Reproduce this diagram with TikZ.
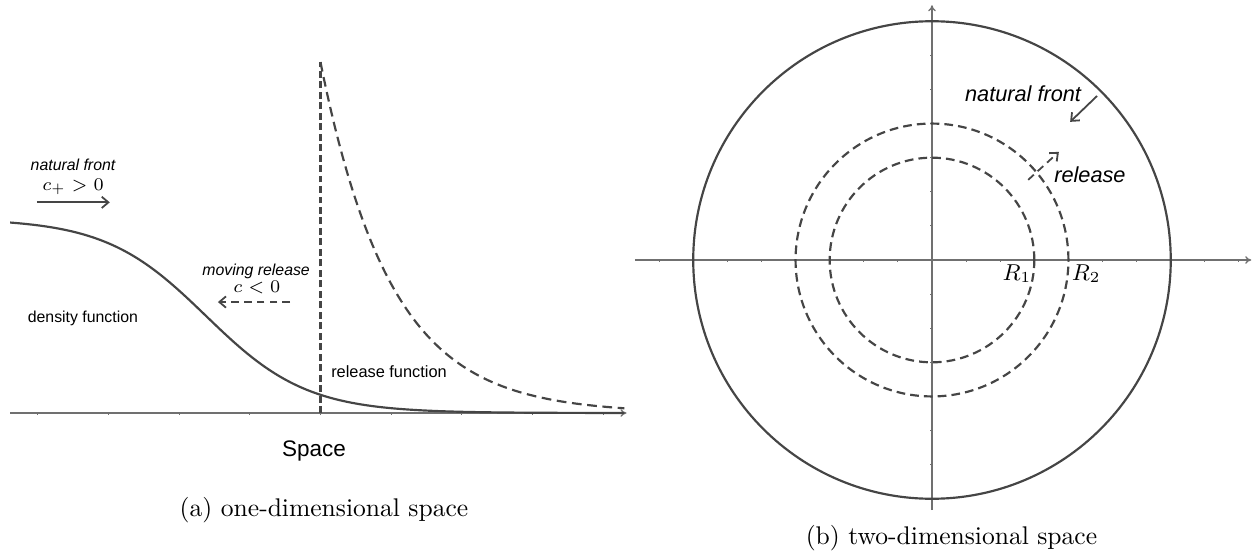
\documentclass[tikz,border=0pt]{standalone}
\usepackage{fontspec}
\setsansfont{Liberation Sans}
\usetikzlibrary{arrows.meta, positioning}
\definecolor{cdark}{HTML}{454545}
\definecolor{caxis}{HTML}{707070}

\begin{document}
\begin{tikzpicture}[
    axisline/.style={draw=caxis, line width=0.5pt, -{To[length=2.4pt, width=3pt]}},
    tickmark/.style={draw=caxis, line width=0.4pt},
    curveline/.style={draw=cdark, line width=0.85pt},
    dashline/.style={draw=cdark, line width=0.85pt, dash pattern=on 3.4pt off 2pt},
    arrowline/.style={draw=cdark, line width=0.7pt, -{Straight Barb[length=2.6pt, width=4.4pt]}},
    smalllabel/.style={font=\fontsize{6.2}{7.5}\selectfont\sffamily, text=black, inner sep=0pt},
    midlabel/.style={font=\fontsize{8.5}{10}\selectfont\sffamily\itshape, text=black, inner sep=0pt},
    mathlabel/.style={font=\fontsize{7.2}{8.5}\selectfont, text=black, inner sep=0pt},
    caption/.style={font=\fontsize{10}{12}\selectfont, text=black, inner sep=0pt}
]
    \useasboundingbox (0,0) rectangle (17.229,7.604);

    % ================= (a) one-dimensional space =================
    \begin{scope}[shift={(0.518,1.925)}, x=0.972cm, y=0.972cm]
        \coordinate (axstart) at (-0.39,0);
        \coordinate (axend) at (8.33,0);
        \draw[axisline] (axstart) -- (axend);
        \foreach \k in {0,...,8}
            \draw[tickmark] (\k,0) -- (\k,-0.035);

        % density and release curves
        \draw[curveline] plot[domain=-0.39:8.3, samples=140, smooth]
            (\x, {2.75/(1+exp(1.4*(\x-2.38)))});
        \coordinate (relbase) at (4,0);
        \coordinate (reltop) at (4,4.965);
        \draw[dashline, dash pattern=on 2.7pt off 1.4pt] (relbase) -- (reltop);
        \draw[dashline, dash pattern=on 3.8pt off 2.2pt] plot[domain=4:8.3, samples=90, smooth]
            (\x, {4.965*exp(-(\x-4))});

        % labels
        \node[smalllabel, font=\fontsize{6.2}{7.5}\selectfont\sffamily\itshape] (nflabel) at (0.5,3.51) {natural front};
        \node[mathlabel] (nfspeed) at (0.5,3.20) {$c_+>0$};
        \coordinate (nfstart) at (-0.01,2.98);
        \coordinate (nfend) at (1.02,2.98);
        \draw[arrowline] (nfstart) -- (nfend);

        \node[smalllabel] (denslabel) at (0.64,1.34) {density function};

        \node[smalllabel, font=\fontsize{6.2}{7.5}\selectfont\sffamily\itshape] (mrlabel) at (3.09,2.00) {moving release};
        \node[mathlabel] (mrspeed) at (3.10,1.77) {$c<0$};
        \coordinate (mrstart) at (3.57,1.57);
        \coordinate (mrend) at (2.55,1.57);
        \draw[arrowline, dash pattern=on 3pt off 2pt] (mrstart) -- (mrend);

        \node[smalllabel, font=\fontsize{6.4}{7.5}\selectfont\sffamily] (rflabel) at (4.97,0.58) {release function};
        \node[smalllabel, font=\fontsize{8.8}{10}\selectfont\sffamily] (spacelabel) at (3.91,-0.54) {Space};
    \end{scope}

    % ================= (b) two-dimensional space =================
    \begin{scope}[shift={(12.815,4.029)}, x=0.469cm, y=0.469cm]
        \coordinate (hxstart) at (-8.71,0);
        \coordinate (hxend) at (9.36,0);
        \coordinate (vxstart) at (0,-7.33);
        \coordinate (vxend) at (0,7.47);
        \draw[axisline] (hxstart) -- (hxend);
        \draw[axisline] (vxstart) -- (vxend);
        \foreach \k in {-8,...,9}
            \draw[tickmark] (\k,0) -- (\k,-0.07);
        \foreach \k in {-7,...,7}
            \draw[tickmark] (0,\k) -- (-0.07,\k);

        % fronts
        \draw[curveline] (0,0) circle (7);
        \draw[dashline] (0,0) circle (3);
        \draw[dashline] (0,0) circle (4);

        % labels
        \node[midlabel] (nflabelb) at (2.67,4.88) {natural front};
        \coordinate (nfbstart) at (4.84,4.81);
        \coordinate (nfbend) at (4.05,4.05);
        \draw[arrowline] (nfbstart) -- (nfbend);

        \node[midlabel] (rellabelb) at (4.63,2.49) {release};
        \coordinate (relbstart) at (2.82,2.35);
        \coordinate (relbend) at (3.72,3.17);
        \draw[arrowline, dash pattern=on 3pt off 2pt] (relbstart) -- (relbend);

        \node[mathlabel, font=\fontsize{8.8}{10}\selectfont] (rone) at (2.49,-0.40) {$R_1$};
        \node[mathlabel, font=\fontsize{8.8}{10}\selectfont] (rtwo) at (4.52,-0.40) {$R_2$};
    \end{scope}

    % ================= captions =================
    \node[caption] (capa) at (4.455,0.59) {(a) one-dimensional space};
    \node[caption] (capb) at (13.083,0.21) {(b) two-dimensional space};
\end{tikzpicture}
\end{document}
